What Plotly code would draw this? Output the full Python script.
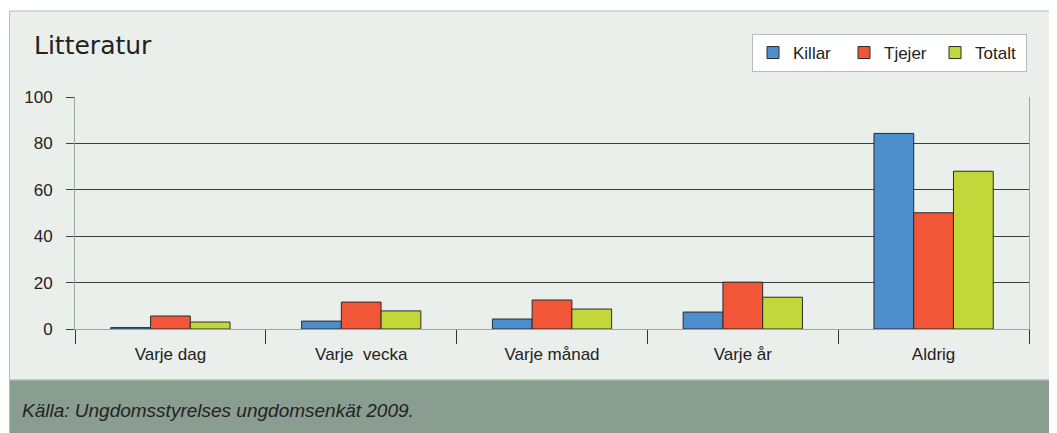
import plotly.graph_objs as go

# data (percent)
categories = ["Varje dag", "Varje  vecka", "Varje månad", "Varje år", "Aldrig"]
killar = [0.6, 3.4, 4.3, 7.3, 84.3]
tjejer = [5.6, 11.6, 12.5, 20.2, 50.1]
totalt = [3.0, 7.8, 8.6, 13.7, 68.0]
y_ticks = [0, 20, 40, 60, 80, 100]

series = [
    ("Killar", killar, "#4D8ECD"),
    ("Tjejer", tjejer, "#F15637"),
    ("Totalt", totalt, "#C1D73A"),
]

# the page body has an 8px margin, so the figure starts at (8, 8)
OFF = 8
W, H = 1057 - OFF, 433 - OFF
L, R, T, B = 75 - OFF, 1029 - OFF, 97 - OFF, 329 - OFF  # plot area


def px_x(x):
    # reference pixel -> paper fraction
    return (x - OFF - L) / (R - L)


def px_y(y):
    return (B - (y - OFF)) / (B - T)


fig = go.Figure()
for name, vals, color in series:
    fig.add_trace(
        go.Bar(
            x=categories,
            y=vals,
            name=name,
            marker={"color": color, "line": {"color": "#2b2b2b", "width": 1}},
        )
    )

font = "Liberation Sans, Arial, sans-serif"

fig.update_layout(
    width=W,
    height=H,
    margin={"l": L, "r": W - R, "t": T, "b": H - B, "pad": 0},
    paper_bgcolor="white",
    plot_bgcolor="white",
    barmode="group",
    bargap=0.375,
    bargroupgap=0,
    font={"family": font, "size": 17, "color": "#222"},
    showlegend=True,
    legend={
        "orientation": "h",
        "x": px_x(1027),
        "xanchor": "right",
        "y": px_y(53),
        "yanchor": "middle",
        "bgcolor": "white",
        "bordercolor": "#B3C0B7",
        "borderwidth": 1,
        "font": {"family": font, "size": 17, "color": "#222"},
        "entrywidth": 46,
    },
    shapes=[
        # light panel behind everything
        {
            "type": "rect", "xref": "paper", "yref": "paper", "layer": "below",
            "x0": px_x(9.5), "x1": px_x(1062), "y0": px_y(380), "y1": px_y(11),
            "fillcolor": "#EAEFEB", "line": {"color": "#B3C0B7", "width": 1},
        },
        # source band at the bottom
        {
            "type": "rect", "xref": "paper", "yref": "paper", "layer": "below",
            "x0": px_x(9.5), "x1": px_x(1062), "y0": px_y(440), "y1": px_y(380),
            "fillcolor": "#8A9D91", "line": {"color": "#B3C0B7", "width": 1},
        },
    ],
    annotations=[
        {
            "text": "Litteratur", "xref": "paper", "yref": "paper",
            "x": px_x(32), "y": px_y(46), "xanchor": "left", "yanchor": "middle",
            "showarrow": False,
            "font": {"family": "DejaVu Sans, sans-serif", "size": 25, "color": "#222"},
        },
        {
            "text": "<i>Källa: Ungdomsstyrelses ungdomsenkät 2009.</i>",
            "xref": "paper", "yref": "paper",
            "x": px_x(20), "y": px_y(410), "xanchor": "left", "yanchor": "middle",
            "showarrow": False,
            "font": {"family": font, "size": 19, "color": "#222"},
        },
    ],
)

fig.update_xaxes(
    showgrid=False,
    showline=True,
    linecolor="#9AA69E",
    linewidth=1,
    ticks="outside",
    tickson="boundaries",
    ticklen=14,
    tickcolor="#333",
    tickwidth=1,
    ticklabelstandoff=10,
    tickfont={"family": font, "size": 17, "color": "#222"},
)
fig.update_yaxes(
    range=[0, 100],
    tickvals=y_ticks,
    showgrid=True,
    gridcolor="#3c3c3c",
    gridwidth=1,
    zeroline=False,
    showline=True,
    linecolor="#9AA69E",
    linewidth=1,
    mirror=True,
    ticks="outside",
    ticklen=8,
    tickcolor="#444",
    ticklabelstandoff=10,
    tickfont={"family": font, "size": 17, "color": "#222"},
)

fig.write_html("out.html")
